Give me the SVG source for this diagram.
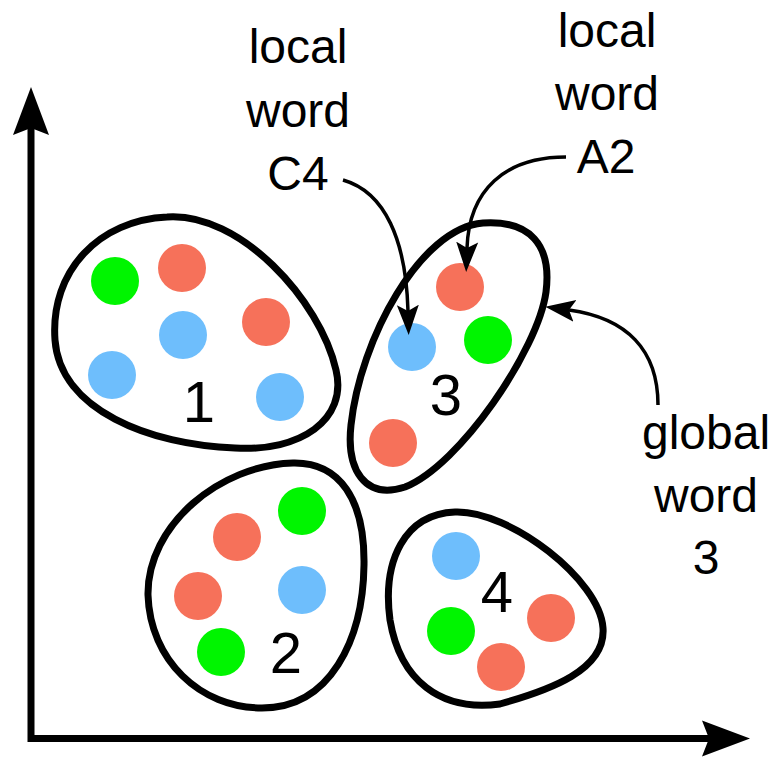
<svg xmlns="http://www.w3.org/2000/svg" width="779" height="758" viewBox="0 0 779 758">
<style>
.blob{fill:#fff;stroke:#000;stroke-width:7;stroke-linejoin:round}
.r{fill:#F6715A}.b{fill:#6EBEFC}.g{fill:#00F500}
.lbl{font-family:"Liberation Sans",Arial,Helvetica,sans-serif;font-size:48px;fill:#000;text-anchor:middle}
.num{font-family:"Liberation Sans",Arial,Helvetica,sans-serif;font-size:58px;fill:#000;text-anchor:middle}
.conn{fill:none;stroke:#000;stroke-width:3.5}
.axis{fill:none;stroke:#000;stroke-width:7;stroke-linejoin:miter}
</style>
<defs>
<marker id="head" markerUnits="userSpaceOnUse" markerWidth="34" markerHeight="26" viewBox="0 -13 34 26" refX="6" refY="0" orient="auto">
<path d="M0,-11 L30,0 L0,11 L6,0 Z" fill="#000"/>
</marker>
<marker id="axhead" markerUnits="userSpaceOnUse" markerWidth="52" markerHeight="40" viewBox="0 -20 52 40" refX="7" refY="0" orient="auto-start-reverse">
<path d="M0,-18 L48,0 L0,18 L7,0 Z" fill="#000"/>
</marker>
</defs>
<g id="axes">
<path class="axis" d="M31,128 V738.5 H709" marker-start="url(#axhead)" marker-end="url(#axhead)"/>
</g>
<g id="cluster1">
<path class="blob" d="M167,217 C240,212 320,300 336,370 C348,420 300,452 235,448 C150,445 60,410 55,340 C50,270 100,220 167,217 Z"/>
<circle class="g" cx="115" cy="281" r="24"/>
<circle class="r" cx="182" cy="268" r="24"/>
<circle class="r" cx="266" cy="322" r="24"/>
<circle class="b" cx="183" cy="335" r="24"/>
<circle class="b" cx="112" cy="375" r="24"/>
<circle class="b" cx="280" cy="397" r="24"/>
<text class="num" x="199" y="422">1</text>
</g>
<g id="cluster3">
<path class="blob" d="M483,223 C530,220 552,245 546,292 C538,350 460,465 405,487 C365,500 346,470 351,425 C360,340 420,228 483,223 Z"/>
<circle class="r" cx="460" cy="287" r="24"/>
<circle class="b" cx="412" cy="347" r="24"/>
<circle class="g" cx="488" cy="340" r="24"/>
<circle class="r" cx="393" cy="443" r="24"/>
<text class="num" x="446" y="415">3</text>
</g>
<g id="cluster2">
<path class="blob" d="M293,463 C340,462 365,500 364,565 C363,640 330,708 262,708 C200,708 150,660 148,595 C147,525 220,465 293,463 Z"/>
<circle class="g" cx="302" cy="511" r="24"/>
<circle class="r" cx="237" cy="537" r="24"/>
<circle class="r" cx="198" cy="596" r="24"/>
<circle class="b" cx="302" cy="590" r="24"/>
<circle class="g" cx="221" cy="652" r="24"/>
<text class="num" x="286" y="673">2</text>
</g>
<g id="cluster4">
<path class="blob" d="M455,512 C510,510 600,580 603,628 C606,670 550,690 500,704 C440,712 400,680 390,620 C382,560 405,514 455,512 Z"/>
<circle class="b" cx="456" cy="556" r="24"/>
<circle class="g" cx="451" cy="631" r="24"/>
<circle class="r" cx="551" cy="618" r="24"/>
<circle class="r" cx="501" cy="667" r="24"/>
<text class="num" x="497" y="612">4</text>
</g>
<g id="labelC4">
<text class="lbl" x="298" y="63">local</text>
<text class="lbl" x="298" y="127">word</text>
<text class="lbl" x="298" y="190">C4</text>
</g>
<g id="labelA2">
<text class="lbl" x="607" y="47">local</text>
<text class="lbl" x="607" y="110">word</text>
<text class="lbl" x="606" y="173">A2</text>
</g>
<g id="labelGlobal">
<text class="lbl" x="706" y="449">global</text>
<text class="lbl" x="706" y="512">word</text>
<text class="lbl" x="706" y="574">3</text>
</g>
<g id="connectors">
<path class="conn" d="M343,180 C385,192 406,240 408,311" marker-end="url(#head)"/>
<path class="conn" d="M566,157 C505,157 469,190 467,248" marker-end="url(#head)"/>
<path class="conn" d="M658,405 C658,350 627,318 569,310" marker-end="url(#head)"/>
</g>
</svg>
